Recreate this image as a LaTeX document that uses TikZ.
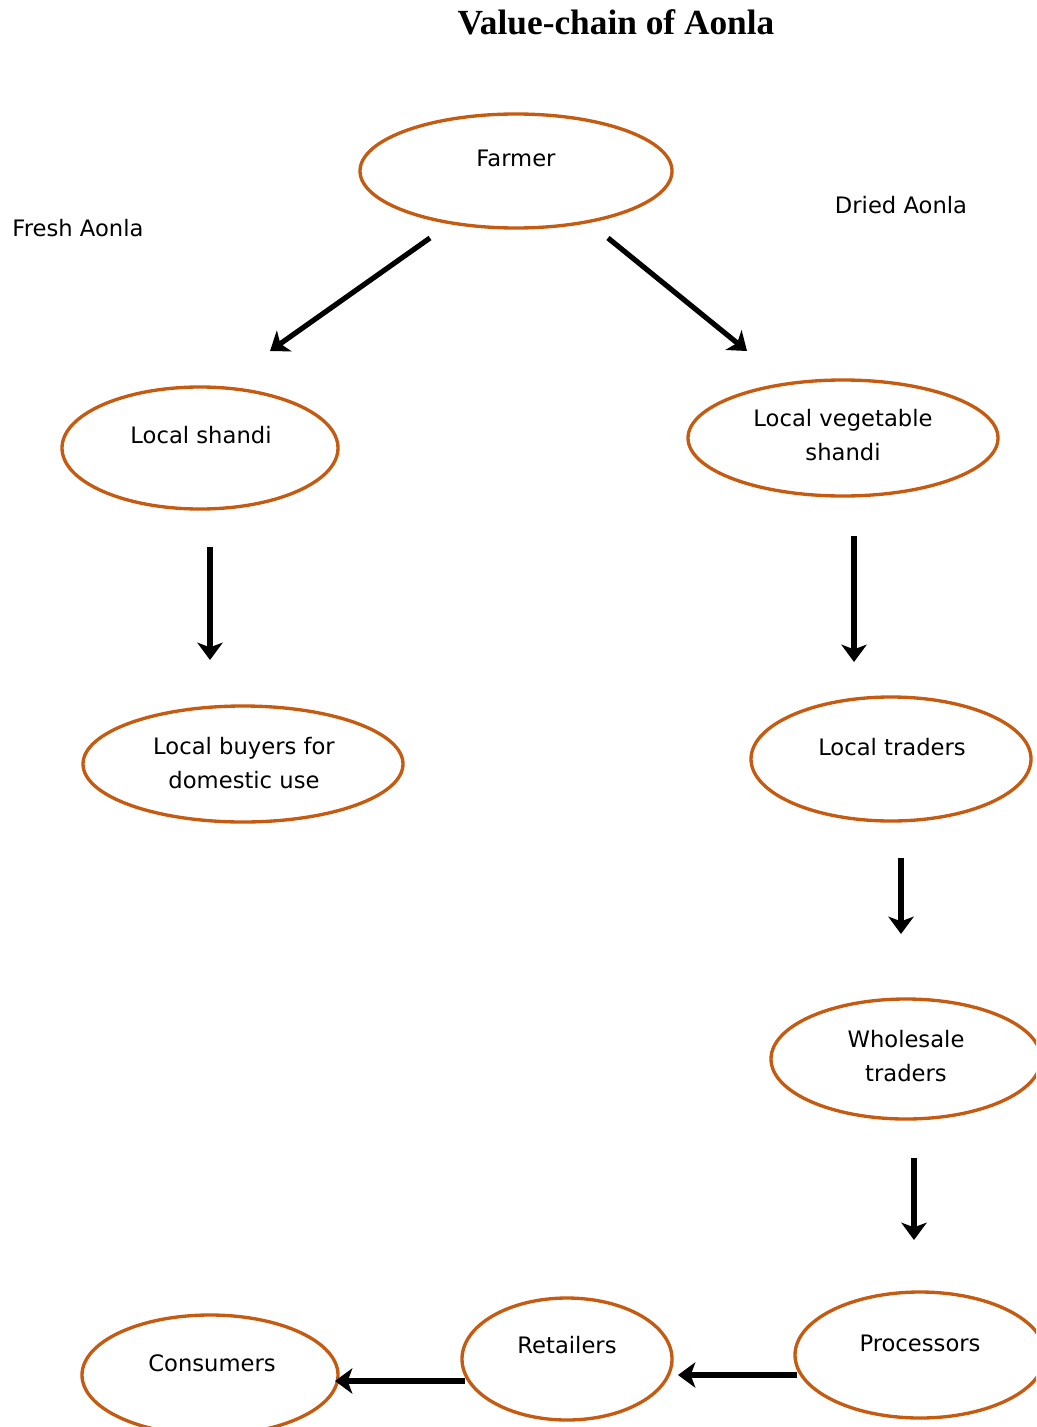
\documentclass[tikz,border=0pt]{standalone}
\usepackage{fontspec}
\setmainfont{Liberation Serif}
\newfontfamily\labelfont{DejaVu Sans}
\usetikzlibrary{arrows.meta}
\definecolor{rim}{HTML}{C55A11}
\begin{document}
\begin{tikzpicture}[x=0.75pt,y=-0.75pt,
  ring/.style={draw=rim,line width=2.5pt},
  lbl/.style={font=\labelfont\fontsize{17pt}{25pt}\selectfont,align=center},
  flow/.style={line width=3.9pt,-{Stealth[length=13pt,width=19pt,inset=3.5pt]}}]
\useasboundingbox (0,0) rectangle (1036,1427);
\clip (0,0) rectangle (1036,1427);
\fill[white] (0,0) rectangle (1036,1427);

% title
\node (title) at (616,22) {\fontsize{26.5pt}{30pt}\selectfont\bfseries Value-chain of Aonla};

% stages of the chain
\draw[ring] (516,171) ellipse [x radius=156,y radius=57];
\draw[ring] (200,448) ellipse [x radius=138,y radius=61];
\draw[ring] (843,438) ellipse [x radius=155,y radius=58];
\draw[ring] (243,764) ellipse [x radius=160,y radius=58];
\draw[ring] (891,759) ellipse [x radius=140,y radius=62];
\draw[ring] (906,1059) ellipse [x radius=135,y radius=60];
\draw[ring] (920,1355) ellipse [x radius=125,y radius=63];
\draw[ring] (567,1359) ellipse [x radius=105,y radius=61];
\draw[ring] (210,1375) ellipse [x radius=128,y radius=60];

% labels
\node[lbl] (farmer) at (516,158) {Farmer};
\node[lbl] (fresh) at (78,228) {Fresh Aonla};
\node[lbl] (dried) at (901,205) {Dried Aonla};
\node[lbl] (shandi) at (201,435) {Local shandi};
\node[lbl] (vegshandi) at (843,435) {Local vegetable\\shandi};
\node[lbl] (buyers) at (244,763) {Local buyers for\\domestic use};
\node[lbl] (traders) at (892,747) {Local traders};
\node[lbl] (wholesale) at (906,1056) {Wholesale\\traders};
\node[lbl] (processors) at (920,1343) {Processors};
\node[lbl] (retailers) at (567,1345) {Retailers};
\node[lbl] (consumers) at (212,1363) {Consumers};

% arrow ends
\coordinate (f1) at (430,238);  \coordinate (s1) at (270,351);
\coordinate (f2) at (608,238);  \coordinate (v1) at (747,351);
\coordinate (s2) at (210,547);  \coordinate (b1) at (210,660);
\coordinate (v2) at (854,536);  \coordinate (t1) at (854,662);
\coordinate (t2) at (901,858);  \coordinate (w1) at (901,934);
\coordinate (w2) at (914,1158); \coordinate (p1) at (914,1240);
\coordinate (p2) at (797,1375); \coordinate (r1) at (678,1375);
\coordinate (r2) at (465,1381); \coordinate (c1) at (335,1381);

\draw[flow] (f1) -- (s1);
\draw[flow] (f2) -- (v1);
\draw[flow] (s2) -- (b1);
\draw[flow] (v2) -- (t1);
\draw[flow] (t2) -- (w1);
\draw[flow] (w2) -- (p1);
\draw[flow] (p2) -- (r1);
\draw[flow] (r2) -- (c1);
\end{tikzpicture}
\end{document}
